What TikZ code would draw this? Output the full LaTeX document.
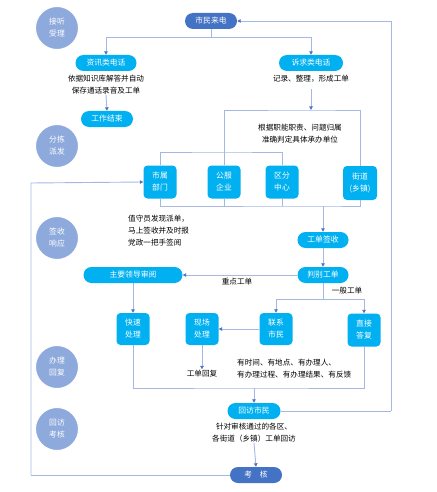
\documentclass[tikz,border=0pt]{standalone}
\usepackage{fontspec}
\setmainfont{Noto Sans CJK SC}
\usetikzlibrary{arrows.meta,calc}
\definecolor{cyanbox}{HTML}{00B0F0}
\definecolor{darkbox}{HTML}{4472C4}
\definecolor{phase}{HTML}{8EA9DB}
\definecolor{lnc}{HTML}{A4B8E2}
\definecolor{arc}{HTML}{4F74C8}
\begin{document}
\begin{tikzpicture}[x=1pt,y=-1pt,
  pill/.style={draw=none,fill=cyanbox,rounded corners=8pt,text=white,font=\fontsize{7.8}{8}\selectfont,minimum height=16pt,inner sep=0pt},
  dpill/.style={pill,fill=darkbox},
  sq/.style={draw=none,fill=cyanbox,rounded corners=4pt,text=white,font=\fontsize{7.8}{12}\selectfont,minimum width=33pt,minimum height=33pt,inner sep=0pt,align=center},
  phasec/.style={circle,fill=phase,draw=white,line width=1pt,minimum size=43pt,inner sep=0pt,text=white,font=\fontsize{7.8}{12}\selectfont,align=center},
  note/.style={font=\fontsize{7.6}{12}\selectfont,inner sep=0pt,text=black},
  ln/.style={draw=lnc,line width=0.9pt},
  ar/.style={ln,-{Triangle[length=3.5pt,width=3.5pt,color=arc]}}]
\useasboundingbox (0,0) rectangle (436,492);
% phases
\node[phasec] (p1) at (57,28) {接听\\受理};
\node[phasec] (p2) at (57,146) {分拣\\派发};
\node[phasec] (p3) at (57,238) {签收\\响应};
\node[phasec] (p4) at (57,367) {办理\\回复};
\node[phasec] (p5) at (57,429) {回访\\考核};
% nodes
\node[dpill,minimum width=52pt] (call) at (211,21) {市民来电};
\node[pill,minimum width=61pt] (info) at (106,63) {资讯类电话};
\node[pill,minimum width=64pt] (comp) at (311,63) {诉求类电话};
\node[note,align=center] (infot) at (106,85) {依据知识库解答并自动\\保存通话录音及工单};
\node[note,align=center] (compt) at (311,79) {记录、整理，形成工单};
\node[pill,minimum width=52pt] (end) at (107,119) {工作结束};
\node[note,align=center] (judt) at (300,134) {根据职能职责、问题归属\\准确判定具体承办单位};
\node[sq] (d1) at (160,182) {市属\\部门};
\node[sq] (d2) at (224,182) {公服\\企业};
\node[sq] (d3) at (282,182) {区分\\中心};
\node[sq,minimum width=34pt,minimum height=34pt] (d4) at (360,183) {街道\\(乡镇)};
\node[note,align=left,anchor=north west] (dutyt) at (128,215) {值守员发现派单，\\马上签收并及时报\\党政一把手签阅};
\node[pill,minimum width=51pt] (sign) at (323,240) {工单签收};
\node[pill,minimum width=51pt] (judge) at (323,275) {判别工单};
\node[pill,minimum width=99pt] (lead) at (133,275) {主要领导审阅};
\node[note] (keyt) at (237,282) {重点工单};
\node[note] (gent) at (347,291) {一般工单};
\node[sq,minimum height=32pt] (e1) at (133,329) {快速\\处理};
\node[sq,minimum height=32pt] (e2) at (202,329) {现场\\处理};
\node[sq,minimum height=32pt] (e3) at (276,329) {联系\\市民};
\node[sq,minimum height=33pt] (e4) at (364,330) {直接\\答复};
\node[note] (replyt) at (202,374) {工单回复};
\node[note,align=left,anchor=north west] (havet) at (237,359) {有时间、有地点、有办理人、\\有办理过程、有办理结果、有反馈};
\node[pill,minimum width=53pt] (visit) at (254,411) {回访市民};
\node[note,align=center] (visitt) at (254,433) {针对审核通过的各区、\\各街道（乡镇）工单回访};
\node[dpill,minimum width=52pt] (exam) at (256,475) {考\quad 核};
% coordinates
\coordinate (s1) at (211,37);
\coordinate (b1) at (311,110);
\coordinate (b2) at (223,152);
\coordinate (b3) at (323,206);
\coordinate (b4) at (323,299);
\coordinate (b5) at (254,388);
\coordinate (r1) at (391,411);
\coordinate (r2) at (391,21);
\coordinate (l1) at (31,475);
\coordinate (l2) at (31,183);
% connectors
\draw[ln] (call.south) -- (s1);
\draw[ar] (s1) -| (info.north);
\draw[ar] (s1) -| (comp.north);
\draw[ar] (infot.south) -- (end.north);
\draw[ar] (compt.south) ++(0,6) -- (b1);
\draw[ln] (d2.north) |- (b1) -| (d4.north);
\draw[ln] (d1.north) |- (b2) -| (d3.north);
\draw[ln] (d1.south) |- (b3) -| (d4.south);
\draw[ln] (d2.south) -- (d2.south |- b3);
\draw[ln] (d3.south) -- (d3.south |- b3);
\draw[ar] (b3) -- (sign.north);
\draw[ar] (sign.south) -- (judge.north);
\draw[ar] (judge.west) -- (lead.east);
\draw[ln] (judge.south) -- (b4);
\draw[ar] (b4) -| (e3.north);
\draw[ar] (b4) -| (e4.north);
\draw[ar] (lead.south) -- (e1.north);
\draw[ar] (e3.west) -- (e2.east);
\draw[ar] (e2.south) -- ($(replyt.north)+(0,-1)$);
\draw[ln] (e1.south) |- (b5) -| (e4.south);
\draw[ar] (b5) -- (visit.north);
\draw[ln] (visit.east) -- (r1);
\draw[ar] (r1) -- (r2) -- (call.east);
\draw[ar] (visitt.south) -- (exam.north);
\draw[ln] (exam.west) -- (l1);
\draw[ar] (l1) -- (l2) -- (d1.west);
\end{tikzpicture}
\end{document}
